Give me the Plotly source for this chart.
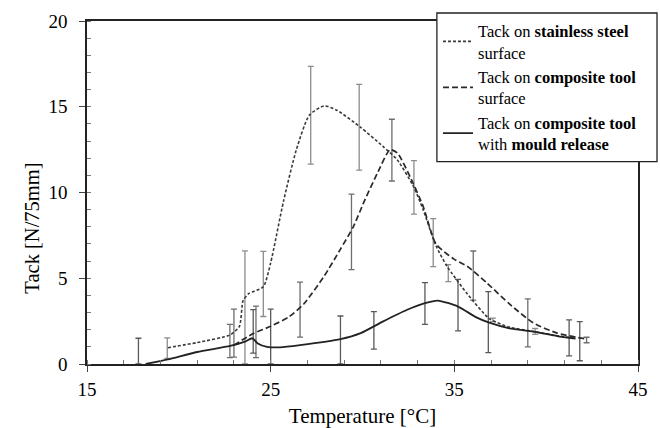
import plotly.graph_objects as go

# ---- data ----
steel_x = [19.4, 21.0, 22.8, 23.3, 23.5, 23.8, 24.6, 25.0, 25.7, 26.4, 27.1, 27.9, 28.6,
           29.9, 31.1, 31.9, 32.8, 33.3, 34.0, 34.6, 35.7, 36.9, 38.0, 39.3, 40.6, 41.6]
steel_y = [0.95, 1.25, 1.7, 2.2, 3.7, 4.1, 4.5, 5.9, 9.5, 12.5, 14.5, 15.05, 14.8,
           13.8, 12.7, 11.9, 10.3, 9.0, 6.9, 5.7, 4.1, 2.65, 2.15, 1.9, 1.65, 1.5]

comp_x = [23.0, 24.0, 25.0, 26.0, 26.8, 27.9, 28.8, 29.5, 30.1, 30.8, 31.5, 31.9, 32.6,
          33.3, 34.0, 35.0, 35.7, 36.8, 38.0, 39.3, 40.6, 42.2]
comp_y = [1.1, 1.75, 2.2, 2.75, 3.5, 5.1, 6.7, 8.0, 9.5, 11.1, 12.5, 12.3, 10.9,
          9.2, 7.0, 6.1, 5.7, 4.7, 3.5, 2.4, 1.8, 1.45]

mould_x = [18.2, 19.4, 21.0, 22.8, 23.6, 24.0, 24.3, 24.8, 25.5, 26.6, 28.8, 29.9, 31.1,
           32.4, 33.4, 34.1, 35.2, 36.2, 36.9, 38.0, 39.3, 40.6, 41.6]
mould_y = [0.0, 0.27, 0.7, 1.05, 1.3, 1.5, 1.2, 1.0, 0.97, 1.1, 1.45, 1.8, 2.47,
           3.15, 3.55, 3.7, 3.35, 2.72, 2.41, 2.08, 1.89, 1.63, 1.48]

# error bars: centre and half-range
steel_err_x = [19.37, 23.6, 24.6, 27.18, 29.82, 32.8, 33.85, 34.67, 37.1, 39.4]
steel_err_y = [0.92, 3.3, 4.67, 14.5, 13.8, 10.3, 7.08, 5.3, 2.57, 1.9]
steel_err_e = [0.6, 3.3, 1.9, 2.85, 2.5, 1.56, 1.4, 0.5, 0.1, 0.17]

comp_err_x = [22.78, 23.0, 24.2, 26.6, 29.4, 31.6, 36.03, 39.0, 42.2]
comp_err_y = [1.34, 1.8, 1.87, 3.17, 7.7, 12.47, 5.16, 2.4, 1.4]
comp_err_e = [0.97, 1.4, 1.5, 1.6, 2.2, 1.8, 1.43, 1.4, 0.16]

mould_err_x = [17.8, 24.05, 25.0, 28.8, 30.62, 33.4, 35.2, 36.85, 41.25, 41.83]
mould_err_y = [0.75, 1.9, 1.6, 1.4, 1.96, 3.53, 3.43, 2.44, 1.52, 1.33]
mould_err_e = [0.75, 1.27, 1.6, 1.4, 1.09, 1.22, 1.5, 1.78, 1.05, 1.14]

x_ticks = [15, 25, 35, 45]
y_ticks = [0, 5, 10, 15, 20]

FONT = "Liberation Serif, Times New Roman, serif"

fig = go.Figure()

def err_trace(xs, ys, es, color):
    return go.Scatter(x=xs, y=ys, mode="markers", showlegend=False, hoverinfo="skip",
                      marker=dict(size=1, opacity=0),
                      error_y=dict(type="data", array=es, visible=True, color=color,
                                   thickness=1.3, width=3))

fig.add_trace(err_trace(steel_err_x, steel_err_y, steel_err_e, "#8c8c8c"))
fig.add_trace(err_trace(comp_err_x, comp_err_y, comp_err_e, "#6e6e6e"))
fig.add_trace(err_trace(mould_err_x, mould_err_y, mould_err_e, "#5a5a5a"))

fig.add_trace(go.Scatter(x=steel_x, y=steel_y, mode="lines",
                         name="Tack on <b>stainless steel</b><br>surface",
                         line=dict(color="#3a3a3a", width=1.6, dash="3px,2px",
                                   shape="spline", smoothing=0.6)))
fig.add_trace(go.Scatter(x=comp_x, y=comp_y, mode="lines",
                         name="Tack on <b>composite tool</b><br>surface",
                         line=dict(color="#2a2a2a", width=1.7, dash="6px,3px",
                                   shape="spline", smoothing=0.6)))
fig.add_trace(go.Scatter(x=mould_x, y=mould_y, mode="lines",
                         name="Tack on <b>composite tool</b><br>with <b>mould release</b>",
                         line=dict(color="#222222", width=1.8,
                                   shape="spline", smoothing=0.6)))

fig.update_layout(
    width=660, height=428,
    margin=dict(l=87, r=22, t=21, b=64, autoexpand=False),
    paper_bgcolor="white", plot_bgcolor="white",
    font=dict(family=FONT, color="black", size=19),
    showlegend=True,
    legend=dict(x=0.637, y=1.022, xanchor="left", yanchor="top",
                bgcolor="rgba(0,0,0,0)", borderwidth=0,
                font=dict(family=FONT, size=16.5, color="black"),
                itemwidth=30, tracegroupgap=0),
    shapes=[dict(type="rect", xref="paper", yref="paper",
                 x0=0.635, x1=1.0345, y0=0.59, y1=1.0233,
                 fillcolor="white", line=dict(color="#222", width=1.3), layer="above")],
    annotations=[dict(text="Tack [N/75mm]", textangle=-90, x=-0.125, y=0.395,
                      xref="paper", yref="paper", showarrow=False,
                      font=dict(family=FONT, size=20.5, color="black"))],
)

fig.update_xaxes(range=[15, 45], tickvals=x_ticks, ticks="outside", ticklen=6,
                 tickcolor="#444", showline=True, linecolor="#222", linewidth=1.5,
                 mirror=True, showgrid=False, zeroline=False, ticklabelstandoff=1,
                 tickfont=dict(family=FONT, size=19),
                 minor=dict(tick0=15, dtick=2, ticks="inside", ticklen=4, tickcolor="#777"),
                 title=dict(text="Temperature [°C]", font=dict(family=FONT, size=21), standoff=14))
fig.update_yaxes(range=[0, 20], tickvals=y_ticks, ticks="outside", ticklen=6,
                 tickcolor="#444", showline=True, linecolor="#222", linewidth=1.5,
                 mirror=True, showgrid=False, zeroline=False, ticklabelstandoff=8,
                 tickfont=dict(family=FONT, size=19),
                 minor=dict(tick0=0, dtick=1, ticks="inside", ticklen=4, tickcolor="#777"))

fig.write_html("out.html", config={"displayModeBar": False},
               post_script="document.body.style.margin='0';document.body.style.overflow='hidden';")
